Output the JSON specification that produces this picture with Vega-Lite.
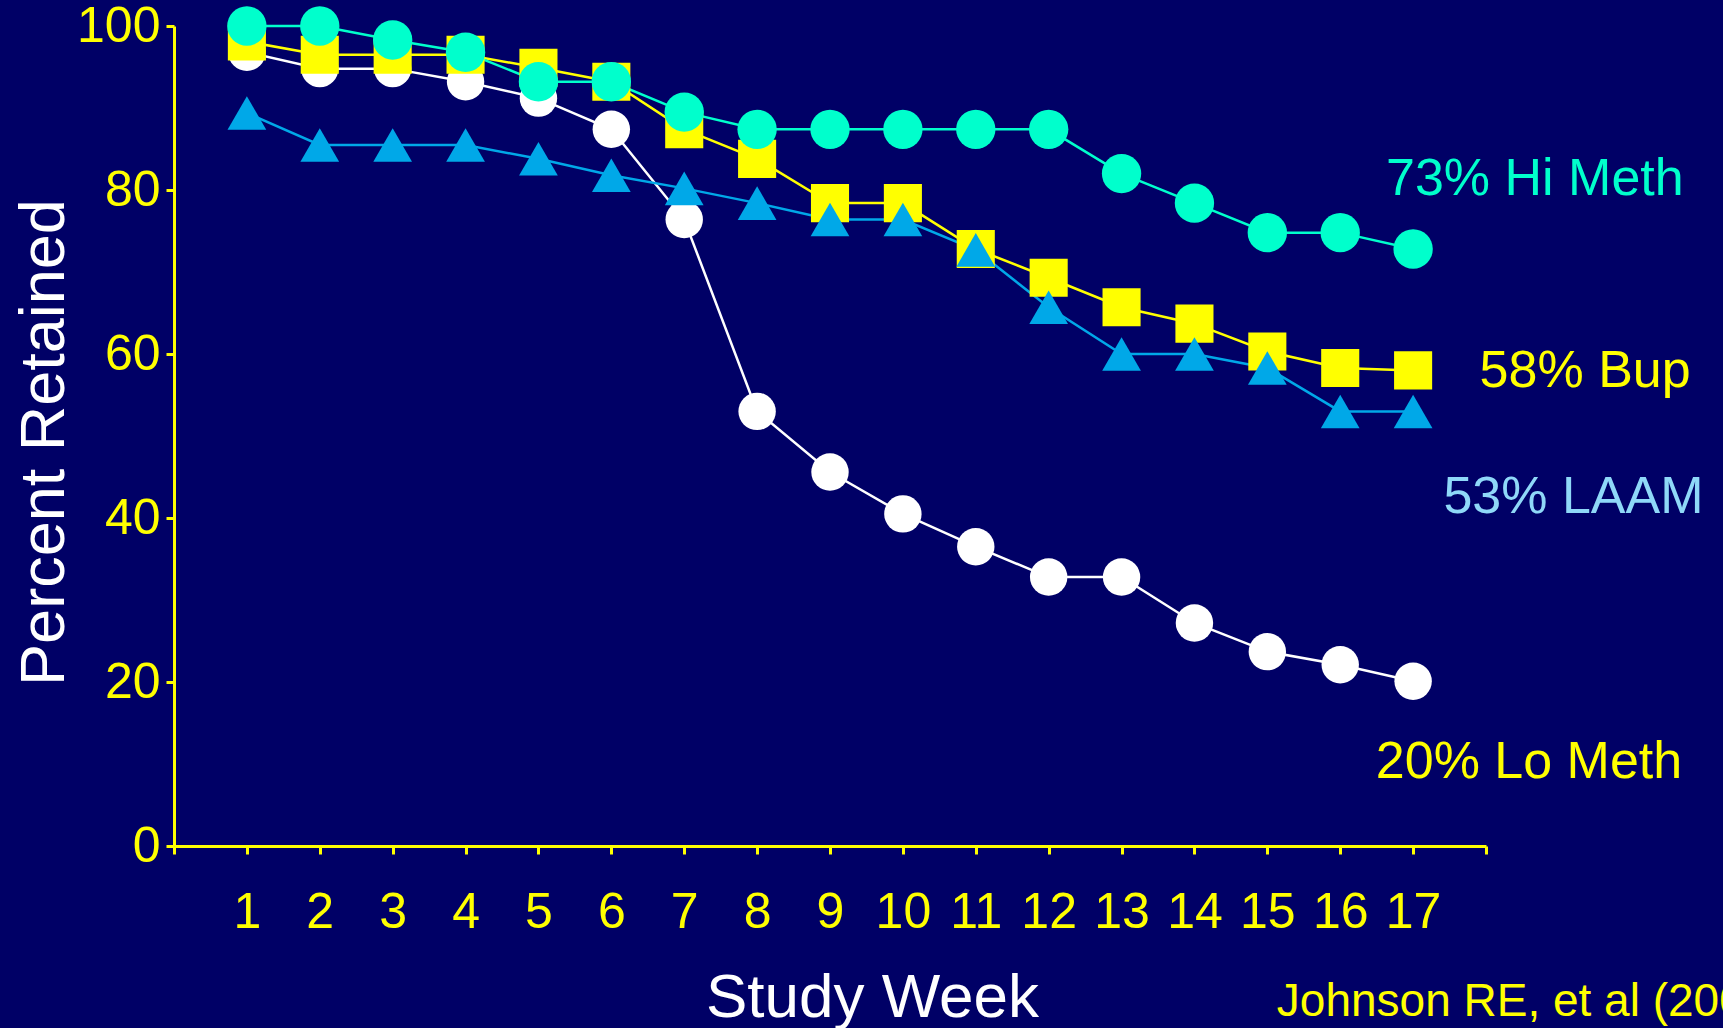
{
  "$schema": "https://vega.github.io/schema/vega-lite/v6.json",
  "width": 1312,
  "height": 820,
  "autosize": {"type": "none"},
  "padding": {"left": 174, "top": 26, "right": 237, "bottom": 182},
  "background": "#000066",
  "config": {
    "view": {"stroke": null},
    "font": "Liberation Sans",
    "axis": {"grid": false, "labelFont": "Liberation Sans", "titleFont": "Liberation Sans"}
  },
  "datasets": {
    "retention": [
      {"week": 1, "pct": 96.8, "series": "Lo Meth"},
      {"week": 2, "pct": 94.8, "series": "Lo Meth"},
      {"week": 3, "pct": 94.8, "series": "Lo Meth"},
      {"week": 4, "pct": 93.2, "series": "Lo Meth"},
      {"week": 5, "pct": 91.2, "series": "Lo Meth"},
      {"week": 6, "pct": 87.4, "series": "Lo Meth"},
      {"week": 7, "pct": 76.4, "series": "Lo Meth"},
      {"week": 8, "pct": 53.0, "series": "Lo Meth"},
      {"week": 9, "pct": 45.6, "series": "Lo Meth"},
      {"week": 10, "pct": 40.5, "series": "Lo Meth"},
      {"week": 11, "pct": 36.5, "series": "Lo Meth"},
      {"week": 12, "pct": 32.8, "series": "Lo Meth"},
      {"week": 13, "pct": 32.8, "series": "Lo Meth"},
      {"week": 14, "pct": 27.2, "series": "Lo Meth"},
      {"week": 15, "pct": 23.7, "series": "Lo Meth"},
      {"week": 16, "pct": 22.1, "series": "Lo Meth"},
      {"week": 17, "pct": 20.1, "series": "Lo Meth"},
      {"week": 1, "pct": 98.1, "series": "Bup"},
      {"week": 2, "pct": 96.5, "series": "Bup"},
      {"week": 3, "pct": 96.5, "series": "Bup"},
      {"week": 4, "pct": 96.5, "series": "Bup"},
      {"week": 5, "pct": 94.9, "series": "Bup"},
      {"week": 6, "pct": 93.2, "series": "Bup"},
      {"week": 7, "pct": 87.4, "series": "Bup"},
      {"week": 8, "pct": 83.8, "series": "Bup"},
      {"week": 9, "pct": 78.4, "series": "Bup"},
      {"week": 10, "pct": 78.4, "series": "Bup"},
      {"week": 11, "pct": 72.8, "series": "Bup"},
      {"week": 12, "pct": 69.3, "series": "Bup"},
      {"week": 13, "pct": 65.7, "series": "Bup"},
      {"week": 14, "pct": 63.7, "series": "Bup"},
      {"week": 15, "pct": 60.3, "series": "Bup"},
      {"week": 16, "pct": 58.3, "series": "Bup"},
      {"week": 17, "pct": 58.0, "series": "Bup"},
      {"week": 1, "pct": 89.4, "series": "LAAM"},
      {"week": 2, "pct": 85.5, "series": "LAAM"},
      {"week": 3, "pct": 85.5, "series": "LAAM"},
      {"week": 4, "pct": 85.5, "series": "LAAM"},
      {"week": 5, "pct": 83.8, "series": "LAAM"},
      {"week": 6, "pct": 81.8, "series": "LAAM"},
      {"week": 7, "pct": 80.2, "series": "LAAM"},
      {"week": 8, "pct": 78.4, "series": "LAAM"},
      {"week": 9, "pct": 76.4, "series": "LAAM"},
      {"week": 10, "pct": 76.4, "series": "LAAM"},
      {"week": 11, "pct": 72.7, "series": "LAAM"},
      {"week": 12, "pct": 65.7, "series": "LAAM"},
      {"week": 13, "pct": 60.0, "series": "LAAM"},
      {"week": 14, "pct": 60.0, "series": "LAAM"},
      {"week": 15, "pct": 58.3, "series": "LAAM"},
      {"week": 16, "pct": 53.0, "series": "LAAM"},
      {"week": 17, "pct": 53.0, "series": "LAAM"},
      {"week": 1, "pct": 100.0, "series": "Hi Meth"},
      {"week": 2, "pct": 100.0, "series": "Hi Meth"},
      {"week": 3, "pct": 98.3, "series": "Hi Meth"},
      {"week": 4, "pct": 96.8, "series": "Hi Meth"},
      {"week": 5, "pct": 93.2, "series": "Hi Meth"},
      {"week": 6, "pct": 93.2, "series": "Hi Meth"},
      {"week": 7, "pct": 89.5, "series": "Hi Meth"},
      {"week": 8, "pct": 87.4, "series": "Hi Meth"},
      {"week": 9, "pct": 87.4, "series": "Hi Meth"},
      {"week": 10, "pct": 87.4, "series": "Hi Meth"},
      {"week": 11, "pct": 87.4, "series": "Hi Meth"},
      {"week": 12, "pct": 87.4, "series": "Hi Meth"},
      {"week": 13, "pct": 82.0, "series": "Hi Meth"},
      {"week": 14, "pct": 78.4, "series": "Hi Meth"},
      {"week": 15, "pct": 74.8, "series": "Hi Meth"},
      {"week": 16, "pct": 74.8, "series": "Hi Meth"},
      {"week": 17, "pct": 72.8, "series": "Hi Meth"}
    ],
    "notes": [
      {"week": 18.67, "pct": 81.3, "label": "73% Hi Meth", "group": "Hi Meth"},
      {"week": 19.36, "pct": 57.9, "label": "58% Bup", "group": "Bup"},
      {"week": 19.2, "pct": 42.6, "label": "53% LAAM", "group": "LAAM"},
      {"week": 18.59, "pct": 10.3, "label": "20% Lo Meth", "group": "Lo Meth"}
    ],
    "citation": [
      {"week": 15.13, "pct": -20.7, "label": "Johnson RE, et al (2000)"}
    ]
  },
  "layer": [
    {
      "data": {"name": "retention"},
      "mark": {"type": "line", "strokeWidth": 2.5},
      "encoding": {
        "x": {
          "field": "week", "type": "quantitative",
          "scale": {"domain": [0, 18], "nice": false, "zero": false},
          "axis": {
            "values": [0, 1, 2, 3, 4, 5, 6, 7, 8, 9, 10, 11, 12, 13, 14, 15, 16, 17, 18],
            "format": "d",
            "labelExpr": "datum.value == 0 || datum.value == 18 ? '' : datum.label",
            "domainColor": "#FFFF00", "domainWidth": 3,
            "tickColor": "#FFFF00", "tickWidth": 3, "tickSize": 8,
            "labelColor": "#FFFF00", "labelFontSize": 50, "labelPadding": 33,
            "labelFlush": false, "labelOverlap": false,
            "title": "Study Week", "titleColor": "#FFFFFF", "titleFontSize": 62,
            "titleFontWeight": "normal", "titleX": 698, "titleY": 170,
            "titleBaseline": "alphabetic", "titleAlign": "center"
          }
        },
        "y": {
          "field": "pct", "type": "quantitative",
          "scale": {"domain": [0, 100], "nice": false},
          "axis": {
            "values": [0, 20, 40, 60, 80, 100],
            "format": "d",
            "domainColor": "#FFFF00", "domainWidth": 3,
            "tickColor": "#FFFF00", "tickWidth": 3, "tickSize": 8,
            "labelColor": "#FFFF00", "labelFontSize": 50, "labelPadding": 6,
            "labelFlush": false, "labelOverlap": false,
            "title": "Percent Retained", "titleColor": "#FFFFFF", "titleFontSize": 63,
            "titleFontWeight": "normal", "titleAngle": -90, "titleX": -111, "titleY": 416,
            "titleBaseline": "alphabetic", "titleAlign": "center"
          }
        },
        "color": {
          "field": "series", "type": "nominal",
          "scale": {"domain": ["Lo Meth", "Bup", "LAAM", "Hi Meth"], "range": ["#FFFFFF", "#FFFF00", "#00A8E8", "#00FFCC"]},
          "legend": null
        }
      }
    },
    {
      "data": {"name": "retention"},
      "mark": {"type": "point", "filled": true, "opacity": 1, "strokeWidth": 0},
      "encoding": {
        "x": {"field": "week", "type": "quantitative"},
        "y": {"field": "pct", "type": "quantitative"},
        "color": {
          "field": "series", "type": "nominal",
          "scale": {"domain": ["Lo Meth", "Bup", "LAAM", "Hi Meth"], "range": ["#FFFFFF", "#FFFF00", "#00A8E8", "#00FFCC"]},
          "legend": null
        },
        "shape": {
          "field": "series", "type": "nominal",
          "scale": {"domain": ["Lo Meth", "Bup", "LAAM", "Hi Meth"], "range": ["circle", "square", "triangle-up", "circle"]},
          "legend": null
        },
        "size": {
          "field": "series", "type": "nominal",
          "scale": {"domain": ["Lo Meth", "Bup", "LAAM", "Hi Meth"], "range": [1400, 1550, 2000, 1400]},
          "legend": null
        }
      }
    },
    {
      "data": {"name": "notes"},
      "mark": {"type": "text", "align": "center", "baseline": "middle", "fontSize": 52},
      "encoding": {
        "x": {"field": "week", "type": "quantitative"},
        "y": {"field": "pct", "type": "quantitative"},
        "text": {"field": "label"},
        "color": {
          "field": "group", "type": "nominal",
          "scale": {"domain": ["Hi Meth", "Bup", "LAAM", "Lo Meth"], "range": ["#00FFCC", "#FFFF00", "#8FD8F8", "#FFFF00"]},
          "legend": null
        }
      }
    },
    {
      "data": {"name": "citation"},
      "mark": {"type": "text", "align": "left", "baseline": "alphabetic", "fontSize": 46, "color": "#FFFF00"},
      "encoding": {
        "x": {"field": "week", "type": "quantitative"},
        "y": {"field": "pct", "type": "quantitative"},
        "text": {"field": "label"}
      }
    }
  ],
  "resolve": {"scale": {"color": "independent"}}
}
